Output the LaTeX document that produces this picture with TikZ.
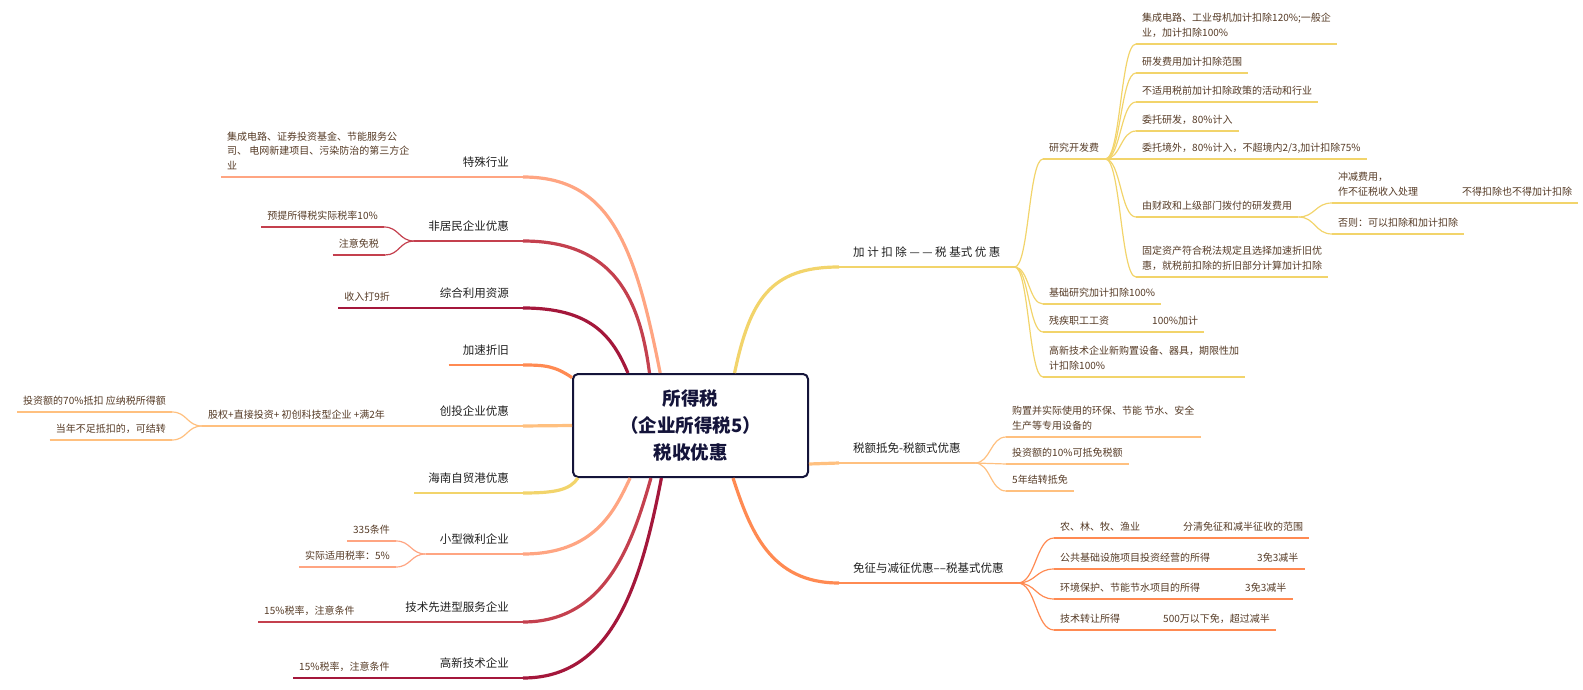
\documentclass[tikz,border=0pt]{standalone}
\usepackage{fontspec}
\setmainfont{Noto Sans CJK SC}
\usetikzlibrary{calc}
\definecolor{cyellow}{HTML}{F2D46B}
\definecolor{cpeach}{HTML}{FFC07F}
\definecolor{ccoral}{HTML}{FF8A52}
\definecolor{csalmon}{HTML}{FFA582}
\definecolor{cred}{HTML}{C4404E}
\definecolor{ccrimson}{HTML}{A4173B}
\definecolor{rootcol}{HTML}{14143A}
\definecolor{maintxt}{HTML}{1F1F1F}
\definecolor{subtxt}{HTML}{553A25}

\begin{document}
\begin{tikzpicture}[x=1pt,y=-1pt,line join=round,
  main/.style={inner xsep=14pt,inner ysep=0pt,text depth=10.5pt,text=maintxt,font=\fontsize{11.5}{15}\selectfont},
  sub/.style={inner xsep=6pt,inner ysep=0pt,text depth=7.5pt,align=left,text=subtxt,font=\fontsize{10}{14.5}\selectfont},
  rootbox/.style={draw=rootcol,line width=2pt,fill=white,rounded corners=5pt,minimum width=235pt,minimum height=103pt,align=center,text=rootcol,font=\fontsize{18.5}{27}\selectfont\bfseries},
  trunk/.style={draw=#1,line width=3.2pt},
  bar/.style={draw=#1,line width=2.2pt},
  twig/.style={draw=#1,line width=1.2pt},
  fork/.style={to path={.. controls ($(\tikztostart)!0.5!(\tikztostart -| \tikztotarget)$) and ($(\tikztotarget)!0.5!(\tikztotarget -| \tikztostart)$) .. (\tikztotarget)}}]
  \useasboundingbox (0,0) rectangle (1583,690);
%%
  % Node: root
  \node[rootbox] (root) at (690.5,425.5) {所得税\\（企业所得税5）\\税收优惠};
  % Node: right main topics
  \node[main,anchor=south west] (tax1) at (839,267) {加 计 扣 除 — — 税 基式 优 惠};
  \node[main,anchor=south west] (tax2) at (839,463) {税额抵免-税额式优惠};
  \node[main,anchor=south west] (tax3) at (839,583) {免征与减征优惠––税基式优惠};
  % Node: tax1 children
  \node[sub,anchor=south west] (rd) at (1043,159) {研究开发费};
  \node[sub,anchor=south west] (basic) at (1043,304) {基础研究加计扣除100\%};
  \node[sub,anchor=south west] (disab) at (1043,332) {残疾职工工资};
  \node[sub,anchor=south west] (disab1) at (1146,332) {100\%加计};
  \node[sub,anchor=south west] (hitec) at (1043,377) {高新技术企业新购置设备、器具，期限性加\\计扣除100\%};
  % Node: rd children
  \node[sub,anchor=south west] (rd1) at (1136,44) {集成电路、工业母机加计扣除120\%;一般企\\业，加计扣除100\%};
  \node[sub,anchor=south west] (rd2) at (1136,73) {研发费用加计扣除范围};
  \node[sub,anchor=south west] (rd3) at (1136,102) {不适用税前加计扣除政策的活动和行业};
  \node[sub,anchor=south west] (rd4) at (1136,131) {委托研发，80\%计入};
  \node[sub,anchor=south west] (rd5) at (1136,159) {委托境外，80\%计入，不超境内2/3,加计扣除75\%};
  \node[sub,anchor=south west] (rd6) at (1136,217) {由财政和上级部门拨付的研发费用};
  \node[sub,anchor=south west] (rd7) at (1136,277) {固定资产符合税法规定且选择加速折旧优\\惠，就税前扣除的折旧部分计算加计扣除};
  \node[sub,anchor=south west] (rd61) at (1332,203) {冲减费用，\\作不征税收入处理};
  \node[sub,anchor=south west] (rd611) at (1456,203) {不得扣除也不得加计扣除};
  \node[sub,anchor=south west] (rd62) at (1332,234) {否则：可以扣除和加计扣除};
  % Node: tax2 children
  \node[sub,anchor=south west] (cr1) at (1006,437) {购置并实际使用的环保、节能 节水、安全\\生产等专用设备的};
  \node[sub,anchor=south west] (cr2) at (1006,464) {投资额的10\%可抵免税额};
  \node[sub,anchor=south west] (cr3) at (1006,491) {5年结转抵免};
  % Node: tax3 children
  \node[sub,anchor=south west] (ex1) at (1054,538) {农、林、牧、渔业};
  \node[sub,anchor=south west] (ex1a) at (1177,538) {分清免征和减半征收的范围};
  \node[sub,anchor=south west] (ex2) at (1054,569) {公共基础设施项目投资经营的所得};
  \node[sub,anchor=south west] (ex2a) at (1251,569) {3免3减半};
  \node[sub,anchor=south west] (ex3) at (1054,599) {环境保护、节能节水项目的所得};
  \node[sub,anchor=south west] (ex3a) at (1239,599) {3免3减半};
  \node[sub,anchor=south west] (ex4) at (1054,630) {技术转让所得};
  \node[sub,anchor=south west] (ex4a) at (1157,630) {500万以下免，超过减半};
  % Node: left main topics
  \node[main,anchor=south east] (spec) at (523,177) {特殊行业};
  \node[main,anchor=south east] (nonres) at (523,241) {非居民企业优惠};
  \node[main,anchor=south east] (reuse) at (523,308) {综合利用资源};
  \node[main,anchor=south east] (accel) at (523,365) {加速折旧};
  \node[main,anchor=south east] (vc) at (523,426) {创投企业优惠};
  \node[main,anchor=south east] (hainan) at (523,493) {海南自贸港优惠};
  \node[main,anchor=south east] (small) at (523,554) {小型微利企业};
  \node[main,anchor=south east] (adv) at (523,622) {技术先进型服务企业};
  \node[main,anchor=south east] (hnte) at (523,678) {高新技术企业};
  % Node: left children
  \node[sub,anchor=south west] (spec1) at (221,177) {集成电路、证券投资基金、节能服务公\\司、 电网新建项目、污染防治的第三方企\\业};
  \node[sub,anchor=south east] (nonres1) at (384,227) {预提所得税实际税率10\%};
  \node[sub,anchor=south east] (nonres2) at (385,255) {注意免税};
  \node[sub,anchor=south east] (reuse1) at (396,308) {收入打9折};
  \node[sub,anchor=south west] (vc1) at (202,426) {股权+直接投资+ 初创科技型企业 +满2年};
  \node[sub,anchor=south east] (vc11) at (172,412) {投资额的70\%抵扣 应纳税所得额};
  \node[sub,anchor=south east] (vc12) at (172,440) {当年不足抵扣的，可结转};
  \node[sub,anchor=south east] (small1) at (396,541) {335条件};
  \node[sub,anchor=south east] (small2) at (396,567) {实际适用税率：5\%};
  \node[sub,anchor=south west] (adv1) at (258,622) {15\%税率，注意条件};
  \node[sub,anchor=south west] (hnte1) at (293,678) {15\%税率，注意条件};
%%
  % Edge: root -> right main topics
  \draw[trunk=cyellow] (root.50.5) .. controls (750,300) and (770,267) .. (tax1.south west);
  \draw[trunk=cpeach] (root.342.3) -- (tax2.south west);
  \draw[trunk=ccoral] (root.309.5) .. controls (750,530) and (770,583) .. (tax3.south west);
  % Edge: root -> left main topics
  \draw[trunk=csalmon] (root.120.6) .. controls (635,245) and (610,177) .. (spec.south east);
  \draw[trunk=cred] (root.128.2) .. controls (640,300) and (615,241) .. (nonres.south east);
  \draw[trunk=ccrimson] (root.140.5) .. controls (612,335) and (590,308) .. (reuse.south east);
  \draw[trunk=ccoral] (root.158) .. controls (555,366) and (545,365) .. (accel.south east);
  \draw[trunk=cpeach] (root.180) -- (vc.south east);
  \draw[trunk=cyellow] (root.205) .. controls (570,490) and (555,493) .. (hainan.south east);
  \draw[trunk=csalmon] (root.221.8) .. controls (615,510) and (595,554) .. (small.south east);
  \draw[trunk=cred] (root.233.9) .. controls (632,545) and (605,622) .. (adv.south east);
  \draw[trunk=ccrimson] (root.241) .. controls (640,590) and (610,678) .. (hnte.south east);
  % Edge: main topic underlines
  \foreach \n/\c in {tax1/cyellow,tax2/cpeach,tax3/ccoral,spec/csalmon,nonres/cred,reuse/ccrimson,
    accel/ccoral,vc/cpeach,hainan/cyellow,small/csalmon,adv/cred,hnte/ccrimson}
    \draw[bar=\c] (\n.south west) -- (\n.south east);
  % Edge: sub topic underlines
  \foreach \n/\c in {rd/cyellow,basic/cyellow,disab/cyellow,disab1/cyellow,hitec/cyellow,
    rd1/cyellow,rd2/cyellow,rd3/cyellow,rd4/cyellow,rd5/cyellow,rd6/cyellow,rd7/cyellow,
    rd61/cyellow,rd611/cyellow,rd62/cyellow,cr1/cpeach,cr2/cpeach,cr3/cpeach,
    ex1/ccoral,ex1a/ccoral,ex2/ccoral,ex2a/ccoral,ex3/ccoral,ex3a/ccoral,ex4/ccoral,ex4a/ccoral,
    spec1/csalmon,nonres1/cred,nonres2/cred,reuse1/ccrimson,vc1/cpeach,vc11/cpeach,vc12/cpeach,
    small1/csalmon,small2/csalmon,adv1/cred,hnte1/ccrimson}
    \draw[twig=\c] (\n.south west) -- (\n.south east);
  % Edge: tax1 -> children
  \foreach \n in {rd,basic,disab,hitec}
    \draw[twig=cyellow] (tax1.south east) to[fork] (\n.south west);
  \draw[twig=cyellow] (disab.south east) -- (disab1.south west);
  % Edge: rd -> children
  \foreach \n in {rd1,rd2,rd3,rd4,rd5,rd6,rd7}
    \draw[twig=cyellow] (rd.south east) to[fork] (\n.south west);
  \draw[twig=cyellow] (rd6.south east) to[fork] (rd61.south west);
  \draw[twig=cyellow] (rd6.south east) to[fork] (rd62.south west);
  \draw[twig=cyellow] (rd61.south east) -- (rd611.south west);
  % Edge: tax2 -> children
  \foreach \n in {cr1,cr2,cr3}
    \draw[twig=cpeach] (tax2.south east) to[fork] (\n.south west);
  % Edge: tax3 -> children
  \foreach \n in {ex1,ex2,ex3,ex4}
    \draw[twig=ccoral] (tax3.south east) to[fork] (\n.south west);
  \draw[twig=ccoral] (ex1.south east) -- (ex1a.south west);
  \draw[twig=ccoral] (ex2.south east) -- (ex2a.south west);
  \draw[twig=ccoral] (ex3.south east) -- (ex3a.south west);
  \draw[twig=ccoral] (ex4.south east) -- (ex4a.south west);
  % Edge: left children -> main topics
  \draw[twig=csalmon] (spec1.south east) -- (spec.south west);
  \draw[twig=cred] (nonres1.south east) to[fork] (nonres.south west);
  \draw[twig=cred] (nonres2.south east) to[fork] (nonres.south west);
  \draw[twig=ccrimson] (reuse1.south east) -- (reuse.south west);
  \draw[twig=cpeach] (vc1.south east) -- (vc.south west);
  \draw[twig=cpeach] (vc11.south east) to[fork] (vc1.south west);
  \draw[twig=cpeach] (vc12.south east) to[fork] (vc1.south west);
  \draw[twig=csalmon] (small1.south east) to[fork] (small.south west);
  \draw[twig=csalmon] (small2.south east) to[fork] (small.south west);
  \draw[twig=cred] (adv1.south east) -- (adv.south west);
  \draw[twig=ccrimson] (hnte1.south east) -- (hnte.south west);
%
\end{tikzpicture}
\end{document}
